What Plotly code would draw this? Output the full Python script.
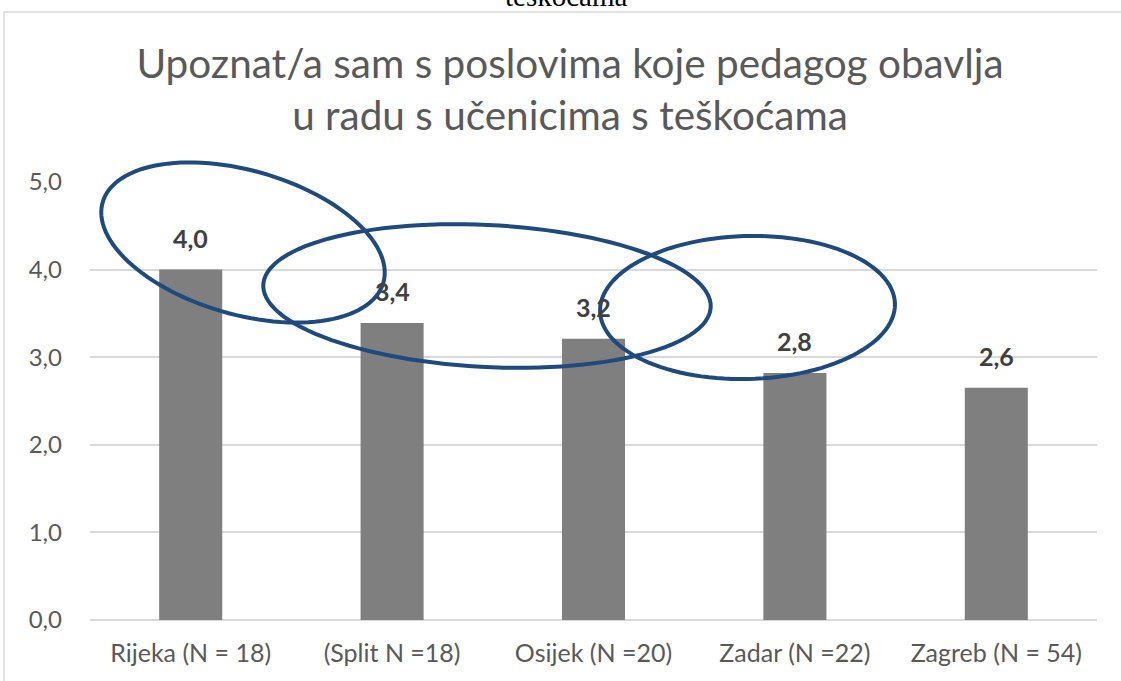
import numpy as np
import plotly.graph_objects as go

categories = ["Rijeka (N = 18)", "(Split N =18)", "Osijek (N =20)", "Zadar (N =22)", "Zagreb (N = 54)"]
values = [4.0, 3.39, 3.21, 2.82, 2.65]
labels = ["4,0", "3,4", "3,2", "2,8", "2,6"]
y_ticks = [0, 1, 2, 3, 4, 5]
title_text = "Upoznat/a sam s poslovima koje pedagog obavlja<br>u radu s učenicima s teškoćama"

W, H = 1121, 681
ML, MR, MT, MB = 90, 24, 182, 61
PW, PH = W - ML - MR, H - MT - MB

def px2paper(x, y):
    return (x - ML) / PW, (H - MB - y) / PH

def ellipse_path(cx, cy, a, b, theta_deg, n=120):
    t = np.radians(theta_deg)
    phi = np.linspace(0, 2 * np.pi, n)
    xs = cx + a * np.cos(phi) * np.cos(t) - b * np.sin(phi) * np.sin(t)
    ys = cy + a * np.cos(phi) * np.sin(t) + b * np.sin(phi) * np.cos(t)
    pts = [px2paper(x, y) for x, y in zip(xs, ys)]
    d = "M " + " L ".join(f"{x:.5f},{y:.5f}" for x, y in pts) + " Z"
    return d

fig = go.Figure()
fig.add_trace(go.Bar(
    x=categories, y=values,
    marker=dict(color="#7F7F7F", line=dict(width=0)),
    hoverinfo="skip",
))

font_main = "Lato, 'Open Sans', sans-serif"

annotations = []
for c, v, lab in zip(categories, values, labels):
    annotations.append(dict(
        x=c, y=v, xref="x", yref="y", text=f"<b>{lab}</b>", showarrow=False,
        yanchor="bottom", yshift=15,
        font=dict(family=font_main, size=25, color="#404040"),
    ))

# clipped text from the page above the chart
annotations.append(dict(
    x=(566 - ML) / PW, y=(H - MB + 4) / PH, xref="paper", yref="paper",
    text="teškoćama", showarrow=False, xanchor="center", yanchor="middle",
    font=dict(family="Liberation Serif, 'Times New Roman', serif", size=29, color="#000000"),
))

shapes = []
# chart border (clipped on right/bottom)
bx0, by0 = px2paper(4, 12)
bx1, by1 = px2paper(1140, 700)
shapes.append(dict(type="rect", xref="paper", yref="paper", x0=bx0, y0=by1, x1=bx1, y1=by0,
                   line=dict(color="#D9D9D9", width=1.5), fillcolor="rgba(0,0,0,0)", layer="below"))

ell_color = "#1F4A7E"
for cx, cy, a, b, th in [(243, 242.5, 146, 72, 16), (487, 296, 224, 71, 2.9), (747.5, 307.5, 147.5, 71.5, -1.5)]:
    shapes.append(dict(type="path", xref="paper", yref="paper", path=ellipse_path(cx, cy, a, b, th),
                       line=dict(color=ell_color, width=4), fillcolor="rgba(0,0,0,0)", layer="above"))

fig.update_layout(
    width=W, height=H,
    margin=dict(l=ML, r=MR, t=MT, b=MB, pad=0),
    paper_bgcolor="white", plot_bgcolor="white",
    separators=",.",
    bargap=0.687,
    showlegend=False,
    title=dict(text=title_text, x=570 / W, xref="container", xanchor="center",
               y=1 - 77.5 / H, yref="container", yanchor="middle",
               font=dict(family=font_main, size=40.5, color="#595959")),
    xaxis=dict(type="category", showline=False, showgrid=False, ticks="",
               tickfont=dict(family=font_main, size=25, color="#595959"),
               ticklabelstandoff=16),
    yaxis=dict(range=[0, 5], tickvals=y_ticks, tickformat=".1f", showgrid=True,
               gridcolor="#D9D9D9", gridwidth=1.5, zeroline=True, zerolinecolor="#D9D9D9",
               zerolinewidth=1.5, showline=False, ticks="",
               tickfont=dict(family=font_main, size=24, color="#595959"),
               ticklabelstandoff=27),
    annotations=annotations,
    shapes=shapes,
)

fig.write_html("out.html", config={"displayModeBar": False},
               post_script="document.body.style.margin='0';document.body.style.overflow='hidden';")
